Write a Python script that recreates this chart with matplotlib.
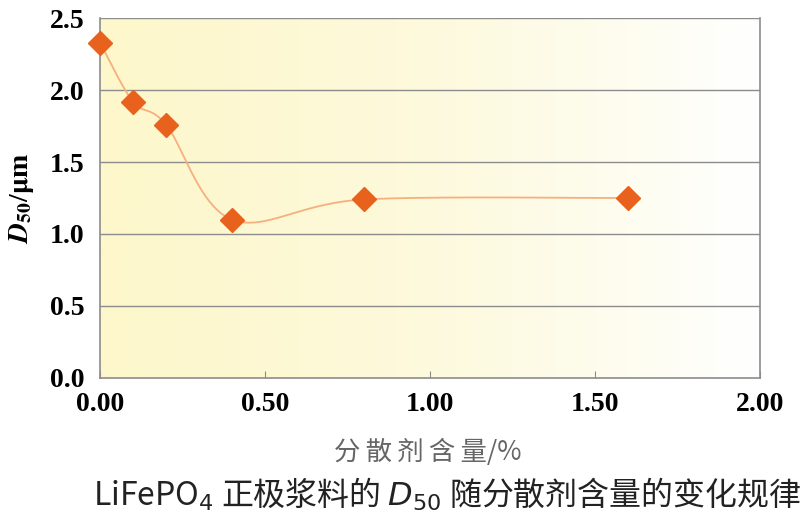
"""LiFePO4 slurry D50 vs dispersant content, Excel-style smoothed line on a yellow gradient."""
import matplotlib

matplotlib.use("Agg")

import matplotlib.pyplot as plt  # noqa: E402
import numpy as np  # noqa: E402
from matplotlib.colors import LinearSegmentedColormap  # noqa: E402

dispersant_pct = [0.0, 0.1, 0.2, 0.4, 0.8, 1.6]
d50_um = [2.33, 1.92, 1.76, 1.10, 1.24, 1.25]
x_ticks = [0.0, 0.5, 1.0, 1.5, 2.0]
x_ticklabels = ["0.00", "0.50", "1.00", "1.50", "2.00"]
y_ticks = [0.0, 0.5, 1.0, 1.5, 2.0, 2.5]
y_ticklabels = ["0.0", "0.5", "1.0", "1.5", "2.0", "2.5"]

ORANGE = "#e8621e"
LINE = "#f6b07e"
GRID = "#8c8c8c"

plt.rcParams["font.family"] = ["Noto Sans CJK SC", "DejaVu Sans"]


def smooth(xs, ys, n=40):
    """Catmull-Rom style cubic Bezier through the points (like Excel's smoothed line)."""
    pts = np.column_stack([xs, ys]).astype(float)
    out = []
    for i in range(len(pts) - 1):
        p0 = pts[max(i - 1, 0)]
        p1 = pts[i]
        p2 = pts[i + 1]
        p3 = pts[min(i + 2, len(pts) - 1)]
        c1 = p1 + (p2 - p0) / 6.0
        c2 = p2 - (p3 - p1) / 6.0
        t = np.linspace(0, 1, n)[:, None]
        seg = ((1 - t) ** 3) * p1 + 3 * ((1 - t) ** 2) * t * c1 + 3 * (1 - t) * t ** 2 * c2 + t ** 3 * p2
        out.append(seg if i == 0 else seg[1:])
    seg = np.vstack(out)
    return seg[:, 0], seg[:, 1]


fig = plt.figure(figsize=(8.0, 5.17), dpi=100)
ax = fig.add_axes([0.125, 0.269, 0.825, 0.696])

cmap = LinearSegmentedColormap.from_list(
    "bg", [(0.0, "#fdf7cb"), (0.45, "#fdf9da"), (0.8, "#fefdf0"), (1.0, "#ffffff")])
grad = np.linspace(0, 1, 256)[None, :]
ax.imshow(grad, cmap=cmap, aspect="auto", extent=[0, 1, 0, 1], transform=ax.transAxes, zorder=0)

ax.set_xlim(0, 2.0)
ax.set_ylim(0, 2.5)
for yv in y_ticks[1:]:
    ax.axhline(yv, color=GRID, lw=1.0, zorder=1)

sx, sy = smooth(dispersant_pct, d50_um)
ax.plot(sx, sy, color=LINE, lw=1.3, zorder=2)
ax.plot(dispersant_pct, d50_um, ls="none", marker="D", ms=12, color=ORANGE, mec=ORANGE, zorder=3, clip_on=False)

ax.set_xticks(x_ticks)
ax.set_xticklabels(x_ticklabels)
ax.set_yticks(y_ticks)
ax.set_yticklabels(y_ticklabels)
ax.tick_params(axis="x", direction="in", length=5, color=GRID, pad=10)
ax.tick_params(axis="y", length=0, pad=11)
for lab in ax.get_xticklabels() + ax.get_yticklabels():
    lab.set_fontfamily("Liberation Serif")
    lab.set_fontweight("bold")
    lab.set_fontsize(20)

for side in ("left", "bottom", "right"):
    ax.spines[side].set_color(GRID)
    ax.spines[side].set_linewidth(1.2)
ax.spines["top"].set_visible(False)

ax.set_ylabel(r"$\boldsymbol{D}_{\mathbf{50}}$/$\mathbf{\mu}$m", fontsize=20, family="Liberation Serif",
              fontweight="bold", labelpad=10, math_fontfamily="stix")

fig.text(0.535, 0.125, "分\u2009散\u2009剂\u2009含\u2009量/%", ha="center", va="center", fontsize=19,
         color="#666666", family=["Noto Sans CJK SC", "DejaVu Sans"])
fig.text(0.559, 0.043, r"LiFePO$_4$ 正极浆料的 $D_{50}$ 随分散剂含量的变化规律", ha="center", va="center",
         fontsize=23, color="#222222")

fig.savefig("out.png", dpi=100)
